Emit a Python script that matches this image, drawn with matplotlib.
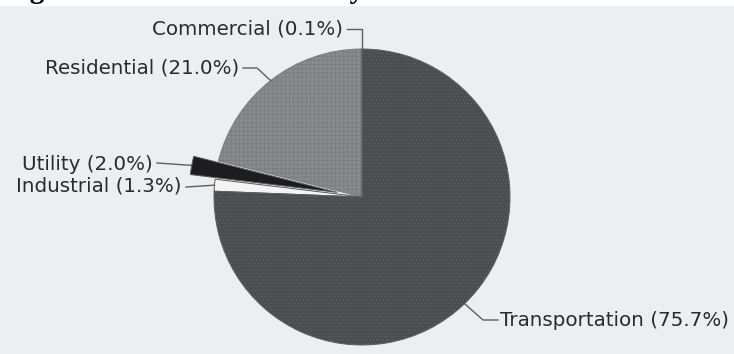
import numpy as np
import matplotlib
matplotlib.use('Agg')
from matplotlib import pyplot as plt
from matplotlib.patches import Rectangle

# sector shares, percent
sectors = ['Commercial', 'Residential', 'Utility', 'Industrial', 'Transportation']
shares = [0.1, 21.0, 2.0, 1.3, 75.7]
labels = ['%s (%.1f%%)' % (s, v) for s, v in zip(sectors, shares)]

face = ['#c8c9cc', '#8a8b8f', '#1d1d1f', '#f4f4f4', '#4a4c50']
hatch = [None, '++++', None, None, '.....']
hatch_col = [None, '#7b7c80', None, None, '#5e6064']
pull = [0, 0, 0.17, 0, 0]   # fraction of radius

W, H = 734, 354
plt.rcParams['hatch.linewidth'] = 0.6

fig = plt.figure(figsize=(W/100, H/100), dpi=100)
fig.patch.set_facecolor('#eceef1')
# white strip of page above the scan
fig.add_artist(Rectangle((0, (H-5)/H), 1, 5/H, transform=fig.transFigure,
                         color='white', zorder=0))
fig.text(0.006, 1 + 1.5/H, 'Figure 3. Emissions Share by Sector',
         family='Liberation Serif', weight='bold', fontsize=21,
         va='baseline', color='black')

ax = fig.add_axes([0, 0, 1, 1])
cx, cy, r = 362, 157, 148

wedges, _ = ax.pie(shares, colors=face, startangle=90, counterclock=True,
                   center=(cx, cy), radius=r,
                   explode=[p*r for p in pull],
                   wedgeprops=dict(edgecolor='#5a5a5a', linewidth=0.7))
for w, h, hc in zip(wedges, hatch, hatch_col):
    if h:
        w.set_hatch(h)
        w.set_edgecolor(hc)

ax.set_xlim(0, W)
ax.set_ylim(0, H)
ax.axis('off')

# label layout: text x, text y, alignment, elbow
lab_pos = [
    (343, 325, 'right', 'vert'),
    (239, 286, 'right', (257, 286)),
    (153, 189, 'right', None),
    (182, 168, 'right', None),
    (500, 34, 'left', (483, 34)),
]

for w, lab, (tx, ty, ha, elb) in zip(wedges, labels, lab_pos):
    th = np.deg2rad(0.5*(w.theta1 + w.theta2))
    wx, wy = w.center
    ax0 = wx + w.r*np.cos(th)
    ay0 = wy + w.r*np.sin(th)
    ex = tx + 4 if ha == 'right' else tx - 2
    if elb == 'vert':
        pts = [(ax0, ay0), (ax0, ty), (ex, ty)]
    elif elb is None:
        pts = [(ax0, ay0), (ex, ty + (2 if ty > 180 else -1))]
    else:
        pts = [(ax0, ay0), elb, (ex, ty)]
    xs, ys = zip(*pts)
    ax.plot(xs, ys, color='#5f5f5f', lw=1.0, solid_joinstyle='miter')
    ax.text(tx, ty, lab, ha=ha, va='center', fontsize=14.3, color='#2b2b2b')

fig.savefig('out.png', dpi=100, facecolor=fig.get_facecolor())
